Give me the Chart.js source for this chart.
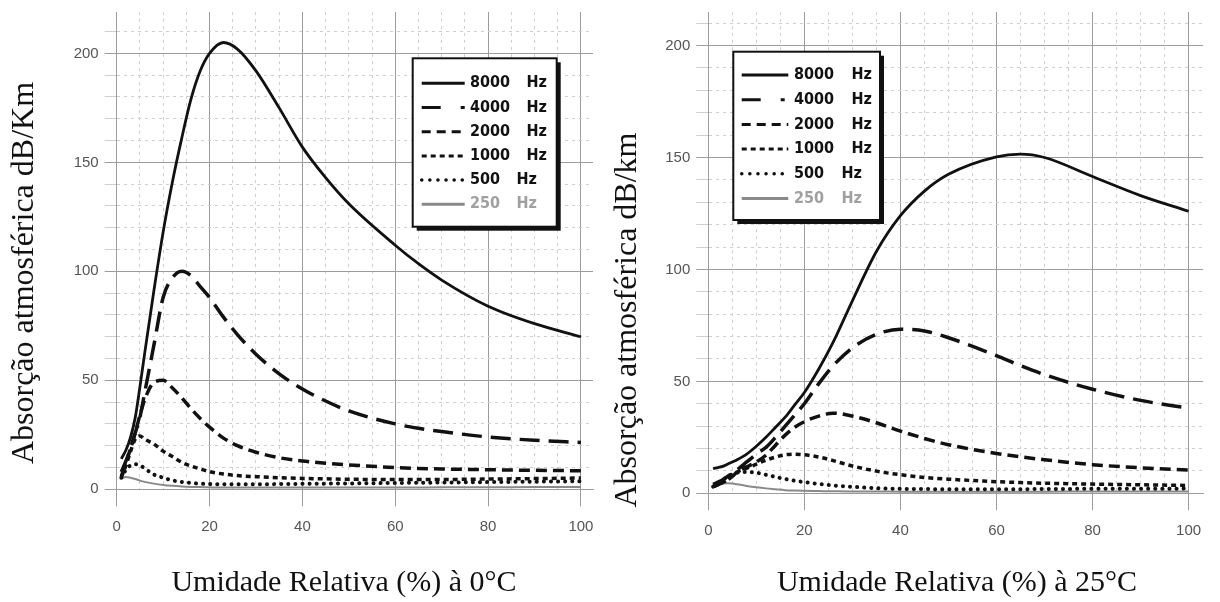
<!DOCTYPE html>
<html>
<head>
<meta charset="utf-8">
<title>Absorção atmosférica</title>
<script src="https://cdn.jsdelivr.net/npm/chart.js@4.4.1/dist/chart.umd.min.js"></script>
<style>
  html, body { margin: 0; padding: 0; background: #fff; }
  #wrap { position: relative; width: 1220px; height: 602px; overflow: hidden; }
  canvas { position: absolute; left: 0; top: 0; }
</style>
</head>
<body>
<div id="wrap">
  <canvas id="cold" width="1220" height="602"></canvas>
  <canvas id="warm" width="1220" height="602"></canvas>
</div>
<script>
// relative humidity (%) sample points, shared by every curve
const humidity = [1, 2, 3, 4, 5, 6, 8, 10, 12, 14, 16, 18, 20, 23, 26, 30, 35, 40, 45, 50, 60, 65, 70, 80, 90, 100];
const freqLabels = ['8000 Hz', '4000 Hz', '2000 Hz', '1000 Hz', '500 Hz', '250 Hz'];
const xTickLabels = [0, 20, 40, 60, 80, 100];
const yTickLabels = [0, 50, 100, 150, 200];

// 0 °C (dB/km)
const cold8000 = [14, 18, 24, 33, 47, 62, 91, 118, 141, 161, 179, 192, 200, 205, 202, 192, 175, 157, 143, 131, 112, 103.5, 96, 84, 76, 70];
const cold4000 = [8, 13, 19, 26, 33, 44, 66, 88, 97, 100, 98, 93, 88, 79, 71, 62, 53, 46, 40.5, 36, 30, 28, 26.5, 24, 22.5, 21.5];
const cold2000 = [6, 12, 19, 26, 34, 41, 49, 50, 46.5, 42, 37, 32.5, 28.5, 23.5, 20, 17, 14.5, 13, 12, 11.2, 10, 9.6, 9.3, 9, 8.7, 8.5];
const cold1000 = [5.5, 11, 17.5, 23, 24.5, 23, 20.8, 17.5, 15, 12.4, 10.7, 9.3, 8.1, 7, 6.3, 5.8, 5.3, 5, 4.8, 4.6, 4.5, 4.5, 4.5, 4.7, 4.9, 5.2];
const cold500 = [5.3, 9, 11, 11.5, 11, 9.6, 6.8, 5.3, 4.1, 3.4, 2.9, 2.6, 2.4, 2.3, 2.3, 2.3, 2.4, 2.5, 2.6, 2.7, 2.9, 3, 3.1, 3.3, 3.5, 3.7];
const cold250 = [5, 5.6, 5.3, 4.7, 4, 3.4, 2.6, 2, 1.6, 1.3, 1.1, 1, 0.9, 0.8, 0.8, 0.8, 0.8, 0.8, 0.8, 0.8, 0.8, 0.85, 0.9, 0.9, 1, 1];

// 25 °C (dB/km)
const warm8000 = [11, 11.5, 12, 13, 14, 15, 17.5, 21, 25, 29.5, 34, 39.5, 45, 55.5, 67.5, 86, 108, 124, 135, 142.5, 150.3, 151.5, 150, 141.5, 133, 126];
const warm4000 = [4, 5, 6, 7.5, 9, 10.5, 14, 17.5, 20.5, 25, 30, 35, 40, 49, 57, 65, 71, 73.3, 72.5, 69.5, 61.5, 57, 53, 46.5, 41.5, 38];
const warm2000 = [3, 3.8, 4.8, 6, 7.5, 9.6, 11.8, 14, 17, 21.5, 26, 29.5, 32, 34.5, 35.8, 34.5, 31.5, 27.8, 24.5, 21.7, 17.8, 16.3, 15, 12.8, 11.4, 10.4];
const warm1000 = [3, 3.8, 4.8, 6, 8, 9.5, 11.2, 13, 14.8, 16.2, 17.2, 17.5, 17.2, 16.2, 14.6, 12.2, 9.9, 8.3, 7.1, 6.3, 5.2, 4.8, 4.5, 4.1, 3.8, 3.5];
const warm500 = [3, 4.5, 6, 7.5, 8.5, 9.2, 9.5, 9.2, 8.3, 7.3, 6.4, 5.6, 5, 4.2, 3.5, 2.9, 2.3, 2, 1.9, 1.8, 1.8, 1.85, 1.9, 2, 2, 2.1];
const warm250 = [3, 3.8, 4.4, 4.5, 4.4, 4, 3.3, 2.7, 2.2, 1.8, 1.4, 1.2, 1.1, 1, 0.9, 0.8, 0.8, 0.7, 0.7, 0.7, 0.7, 0.7, 0.7, 0.8, 0.8, 0.8];

const xTitleCold = 'Umidade Relativa (%) à 0°C';
const xTitleWarm = 'Umidade Relativa (%) à 25°C';
const yTitleCold = 'Absorção atmosférica dB/Km';
const yTitleWarm = 'Absorção atmosférica dB/km';

// line looks, same order as freqLabels
const seriesStyle = [
    { color: '#111', width: 2.8, dash: [], legendDash: [], cap: 'butt', text: '#111' },
    { color: '#111', width: 3.5, dash: [20, 9], legendDash: [19, 20, 4, 60], cap: 'butt', text: '#111' },
    { color: '#111', width: 3.5, dash: [11, 6], legendDash: [9, 6], cap: 'butt', text: '#111' },
    { color: '#111', width: 3.5, dash: [5, 4], legendDash: [5, 4], cap: 'butt', text: '#111' },
    { color: '#111', width: 4, dash: [0.1, 7], legendDash: [0.1, 8], cap: 'round', text: '#111' },
    { color: '#8a8a8a', width: 2, dash: [], legendDash: [], cap: 'butt', text: '#a0a0a0' }
];

const MAJOR = '#9c9c9c';
const MINOR = '#cfcfcf';
const CLEAR = 'rgba(0,0,0,0)';

Chart.defaults.font.family = '"Liberation Sans", Arial, sans-serif';

function gridColor(c, major, minor) {
    if (!c.tick) return MAJOR;
    const v = c.tick.value;
    if (v % major === 0) return MAJOR;
    if (v % minor === 0) return MINOR;
    return CLEAR;
}

function gridDash(c, major) {
    if (!c.tick) return [];
    return c.tick.value % major === 0 ? [] : [3, 4];
}

function buildDatasets(series) {
    return series.map((vals, i) => ({
        label: freqLabels[i],
        data: humidity.map((h, j) => ({ x: h, y: vals[j] })),
        borderColor: seriesStyle[i].color,
        borderWidth: seriesStyle[i].width,
        borderDash: seriesStyle[i].dash,
        borderCapStyle: seriesStyle[i].cap,
        fill: false
    }));
}

// axis titles and the boxed legend of the original figure
const decor = {
    id: 'decor',
    afterDraw(chart, args, o) {
        const ctx = chart.ctx;
        ctx.save();
        ctx.fillStyle = '#111';
        ctx.textAlign = 'center';
        ctx.textBaseline = 'alphabetic';
        ctx.font = '30px "Liberation Serif", "Times New Roman", serif';
        ctx.fillText(o.xTitle, o.xTitleX, o.xTitleY);
        ctx.font = '32px "Liberation Serif", "Times New Roman", serif';
        ctx.translate(o.yTitleX, o.yTitleY);
        ctx.rotate(-Math.PI / 2);
        ctx.fillText(o.yTitle, 0, 0);
        ctx.restore();

        const L = o.legend;
        ctx.save();
        ctx.fillStyle = '#111';
        ctx.fillRect(L.x + 4, L.y + 4, L.w, L.h);
        ctx.fillStyle = '#fff';
        ctx.fillRect(L.x, L.y, L.w, L.h);
        ctx.lineWidth = 2;
        ctx.strokeStyle = '#111';
        ctx.strokeRect(L.x, L.y, L.w, L.h);
        chart.data.datasets.forEach((ds, i) => {
            const st = seriesStyle[i];
            const y = L.rowY + i * L.rowGap;
            ctx.beginPath();
            ctx.setLineDash(st.legendDash);
            ctx.lineCap = st.cap;
            ctx.lineWidth = st.cap === 'round' ? 3.5 : 3;
            ctx.strokeStyle = st.color;
            ctx.moveTo(L.sx, y);
            ctx.lineTo(L.sx + L.sw, y);
            ctx.stroke();
            const parts = ds.label.split(' ');
            ctx.setLineDash([]);
            ctx.font = 'bold 16px "DejaVu Sans Condensed", "Liberation Sans Narrow", "DejaVu Sans", sans-serif';
            ctx.fillStyle = st.text;
            ctx.textAlign = 'left';
            ctx.textBaseline = 'middle';
            ctx.fillText(parts[0], L.tx, y);
            ctx.fillText(parts[1], L.tx + ctx.measureText(parts[0]).width + L.gap, y);
        });
        ctx.restore();
    }
};

function makeChart(id, series, geo) {
    return new Chart(document.getElementById(id), {
        type: 'line',
        data: { datasets: buildDatasets(series) },
        options: {
            responsive: false,
            animation: false,
            devicePixelRatio: 1,
            layout: { padding: geo.padding },
            elements: {
                point: { radius: 0 },
                line: { cubicInterpolationMode: 'monotone' }
            },
            plugins: {
                legend: { display: false },
                tooltip: { enabled: false },
                decor: geo.decor
            },
            scales: {
                x: {
                    type: 'linear',
                    min: 0,
                    max: geo.xMax,
                    bounds: 'data',
                    afterFit(s) { s.height = 50; s.paddingLeft = 0; s.paddingRight = 0; },
                    grid: {
                        color: c => gridColor(c, 20, 5),
                        tickColor: c => (c.tick && c.tick.value % 20 === 0) ? MAJOR : CLEAR,
                        tickLength: 17,
                        lineWidth: 1
                    },
                    border: { color: MAJOR, width: 1, dash: c => gridDash(c, 20) },
                    ticks: {
                        stepSize: 5,
                        includeBounds: false,
                        autoSkip: false,
                        maxRotation: 0,
                        padding: 12,
                        color: '#555',
                        font: { size: 15 },
                        callback: v => xTickLabels.includes(v) ? String(v) : ''
                    }
                },
                y: {
                    type: 'linear',
                    min: 0,
                    max: geo.yMax,
                    bounds: 'data',
                    afterFit(s) { s.width = 60; s.paddingTop = 0; s.paddingBottom = 0; },
                    grid: {
                        color: c => gridColor(c, 50, 10),
                        tickColor: c => (c.tick && c.tick.value % 50 === 0) ? MAJOR : (c.tick && c.tick.value % 10 === 0 ? MINOR : CLEAR),
                        tickLength: 12,
                        lineWidth: 1
                    },
                    border: { color: MAJOR, width: 1, dash: c => gridDash(c, 50) },
                    ticks: {
                        stepSize: 10,
                        includeBounds: false,
                        autoSkip: false,
                        padding: 6,
                        color: '#555',
                        font: { size: 15 },
                        callback: v => yTickLabels.includes(v) ? String(v) : ''
                    }
                }
            }
        },
        plugins: [decor]
    });
}

makeChart('cold', [cold8000, cold4000, cold2000, cold1000, cold500, cold250], {
    padding: { left: 56.7, right: 627, top: 12, bottom: 62.7 },
    xMax: 102.6,
    yMax: 219,
    decor: {
        xTitle: xTitleCold, xTitleX: 344, xTitleY: 591,
        yTitle: yTitleCold, yTitleX: 33, yTitleY: 273,
        legend: { x: 412.7, y: 58.3, w: 144, h: 168.4, rowY: 83.3, rowGap: 24.2, sx: 421.7, sw: 43, tx: 470, gap: 16.5 }
    }
});

makeChart('warm', [warm8000, warm4000, warm2000, warm1000, warm500, warm250], {
    padding: { left: 648.3, right: 17, top: 12, bottom: 58.7 },
    xMax: 103,
    yMax: 215,
    decor: {
        xTitle: xTitleWarm, xTitleX: 957, xTitleY: 591,
        yTitle: yTitleWarm, yTitleX: 636, yTitleY: 320,
        legend: { x: 733.3, y: 51.7, w: 146.7, h: 168.3, rowY: 75, rowGap: 24.7, sx: 741.7, sw: 46.6, tx: 794, gap: 17.5 }
    }
});
</script>
</body>
</html>
